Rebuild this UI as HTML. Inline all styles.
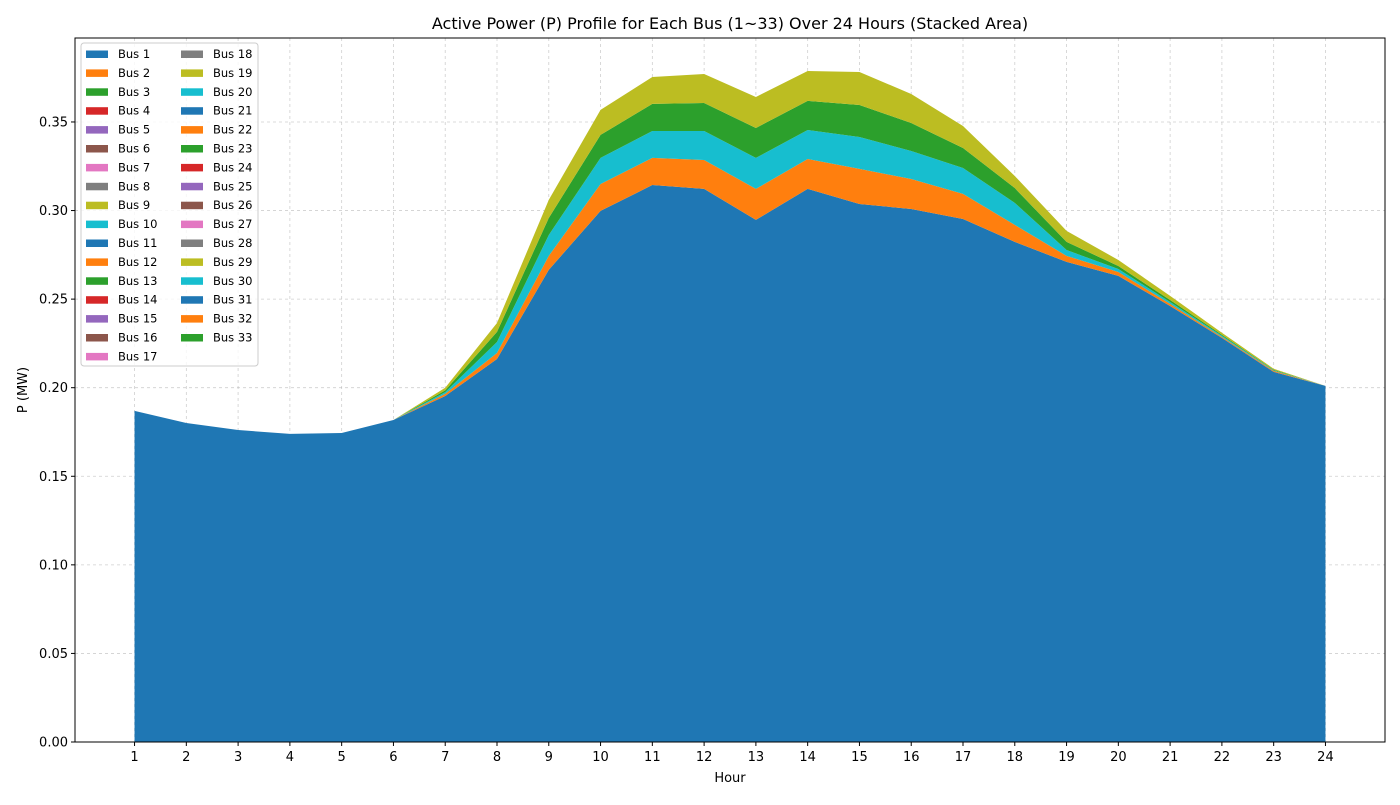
<!DOCTYPE html>
<html><head><meta charset="utf-8"><style>
body{margin:0;background:#fff;}
svg text{font-family:"DejaVu Sans","Liberation Sans",sans-serif;}
</style></head><body>
<svg id="chart" width="1400" height="800" viewBox="0 0 1400 800" xmlns="http://www.w3.org/2000/svg">
<rect width="1400" height="800" fill="#fff"/>
<g id="grid"></g><g id="areas"></g><g id="axes"></g><g id="legend"></g>
</svg>
<script>
const hours=[1,2,3,4,5,6,7,8,9,10,11,12,13,14,15,16,17,18,19,20,21,22,23,24];
const bus1=[0.1869,0.1801,0.1761,0.1739,0.1744,0.1818,0.1953,0.2162,0.2665,0.2998,0.3144,0.3122,0.2947,0.3122,0.3037,0.3009,0.2952,0.2823,0.2710,0.2631,0.2461,0.2281,0.2089,0.2010];
const layerOrange=[0,0,0,0,0,0,0.0012,0.0034,0.0079,0.0152,0.0153,0.0163,0.0175,0.0169,0.0198,0.0169,0.0142,0.0096,0.0034,0.0022,0.0012,0.0006,0.0006,0];
const layerCyan=[0,0,0,0,0,0,0.001,0.0062,0.0118,0.0147,0.0152,0.0164,0.0175,0.0164,0.018,0.0158,0.0146,0.0124,0.0033,0.0017,0.0011,0.0006,0.0003,0];
const layerGreen=[0,0,0,0,0,0,0.001,0.0057,0.0096,0.013,0.0153,0.0158,0.0169,0.0164,0.0181,0.0158,0.0113,0.0084,0.0046,0.0017,0.0011,0.0006,0.0003,0];
const layerOlive=[0,0,0,0,0,0,0.0015,0.005,0.0102,0.0141,0.0152,0.0164,0.0175,0.0169,0.0186,0.0164,0.0124,0.0068,0.0062,0.0034,0.0023,0.0011,0.0006,0];
const yTicks=[0,0.05,0.10,0.15,0.20,0.25,0.30,0.35];
const legendLabels=[];for(let i=1;i<=33;i++)legendLabels.push('Bus '+i);
const palette=['#1f77b4','#ff7f0e','#2ca02c','#d62728','#9467bd','#8c564b','#e377c2','#7f7f7f','#bcbd22','#17becf'];

const L=75,R=1385,T=38,B=742;
const xMin=-0.15,xMax=25.15,yMin=0,yMax=0.3974;
const X=v=>L+(v-xMin)/(xMax-xMin)*(R-L);
const Y=v=>B-(v-yMin)/(yMax-yMin)*(B-T);
const NS='http://www.w3.org/2000/svg';
function mk(tag,attrs,parent){const e=document.createElementNS(NS,tag);for(const k in attrs)e.setAttribute(k,attrs[k]);parent.appendChild(e);return e;}
const grid=document.getElementById('grid'),areas=document.getElementById('areas'),axes=document.getElementById('axes'),leg=document.getElementById('legend');

hours.forEach(h=>{const l=mk('line',{x1:X(h),x2:X(h),y1:T,y2:B,stroke:'#b0b0b0','stroke-width':0.8,'stroke-dasharray':'3,3',opacity:0.6},grid);

});
yTicks.forEach(v=>{const l=mk('line',{x1:L,x2:R,y1:Y(v),y2:Y(v),stroke:'#b0b0b0','stroke-width':0.8,'stroke-dasharray':'3,3',opacity:0.6},grid);

});

const layers=[[bus1,'#1f77b4','area-bus-1'],[layerOrange,'#ff7f0e','area-orange-bus'],[layerCyan,'#17becf','area-cyan-bus'],[layerGreen,'#2ca02c','area-green-bus'],[layerOlive,'#bcbd22','area-olive-bus']];
let base=hours.map(()=>0);
layers.forEach(([vals,col,name])=>{
  const top=base.map((b,i)=>b+vals[i]);
  let d='M'+hours.map((h,i)=>X(h)+','+Y(top[i])).join('L');
  for(let i=hours.length-1;i>=0;i--)d+='L'+X(hours[i])+','+Y(base[i]);
  d+='Z';
  const p=mk('path',{d:d,fill:col},areas);
  
  
  base=top;
});

mk('rect',{x:L,y:T,width:R-L,height:B-T,fill:'none',stroke:'#000','stroke-width':1},axes);
hours.forEach(h=>{mk('line',{x1:X(h),x2:X(h),y1:B,y2:B+4,stroke:'#000'},axes);
const t=mk('text',{x:X(h),y:B+19,'text-anchor':'middle','font-size':13},axes);t.textContent=h;

});
yTicks.forEach(v=>{mk('line',{x1:L-4,x2:L,y1:Y(v),y2:Y(v),stroke:'#000'},axes);
const t=mk('text',{x:L-7,y:Y(v)+4.5,'text-anchor':'end','font-size':13},axes);t.textContent=v.toFixed(2);

});
let t=mk('text',{x:730,y:782,'text-anchor':'middle','font-size':13},axes);t.textContent='Hour';


t=mk('text',{x:27,y:390,'text-anchor':'middle','font-size':13,transform:'rotate(-90 27 390)'},axes);t.textContent='P (MW)';


t=mk('text',{x:730,y:29,'text-anchor':'middle','font-size':16},axes);t.textContent='Active Power (P) Profile for Each Bus (1~33) Over 24 Hours (Stacked Area)';



const lb=mk('rect',{x:81,y:43,width:177,height:323,rx:3,fill:'#fff','fill-opacity':0.8,stroke:'#ccc'},leg);


legendLabels.forEach((lab,i)=>{
  const col=i<17?0:1,row=i<17?i:i-17;
  const x=col?181:86,y=54+row*18.9;
  const g=mk('g',{},leg);
  
  
  mk('rect',{x:x,y:y-3.5,width:22,height:7.5,fill:palette[i%10]},g);
  const tx=mk('text',{x:x+32,y:y+4,'font-size':11.5},g);tx.textContent=lab;
});
</script>
</body></html>
